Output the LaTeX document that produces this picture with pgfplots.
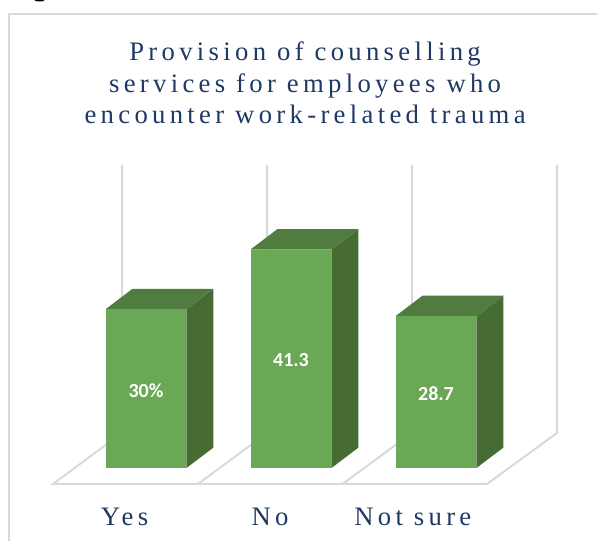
\documentclass[border=0pt]{standalone}
\usepackage{pgfplots}
\pgfplotsset{compat=1.18}
\usepackage{fontspec}
\setmainfont{Liberation Serif}
\newfontfamily\titlefont[LetterSpace=16.2]{Liberation Serif}
\newfontfamily\catfont[LetterSpace=16.2]{Liberation Serif}
\newfontfamily\valfont{Carlito}
\definecolor{navy}{HTML}{1F3864}
\definecolor{front}{HTML}{6AA855}
\definecolor{topf}{HTML}{507D3F}
\definecolor{sidef}{HTML}{466C34}
\definecolor{wall}{HTML}{D9D9D9}
\begin{document}
\begin{tikzpicture}[x=1pt,y=1pt]
\useasboundingbox (0,0) rectangle (447.75pt,405.75pt);
% one category step = 145 units of picture, one percent = 5.29
\begin{axis}[
  scale only axis, width=447.75pt, height=405.75pt,
  at={(0,0)}, anchor=south west,
  hide axis, clip=false,
  xmin=-1.00690, xmax=3.11034,
  ymin=-13.80, ymax=88.47,
]
% foot of the caption line above the frame
\addplot[fill=black, draw=none] coordinates {(-0.7724,88.47) (-0.7517,88.2) (-0.7172,88.2) (-0.6966,88.47)} --cycle;
% outer frame
\addplot[wall, line width=1.5pt] coordinates {(-0.9448,-13.80) (-0.9448,85.8) (3.11034,85.8)};
% back walls and floor
\addplot[wall, line width=1.5pt] coordinates {(-0.1655,57.3) (-0.1655,6.62) (-0.6414,-3.02) (2.3517,-3.02) (2.8345,6.62) (2.8345,57.3)};
\addplot[wall, line width=1.5pt] coordinates {(0.8345,57.3) (0.8345,6.62) (0.3586,-3.02)};
\addplot[wall, line width=1.5pt] coordinates {(1.8345,57.3) (1.8345,6.62) (1.3552,-3.02)};
% Yes
\addplot[fill=sidef, draw=none] coordinates {(0.2793,0) (0.4655,3.875) (0.4655,33.875) (0.2793,30)} --cycle;
\addplot[fill=topf, draw=none] coordinates {(-0.2793,30) (-0.0931,33.875) (0.4655,33.875) (0.2793,30)} --cycle;
\addplot[fill=front, draw=none] coordinates {(-0.2793,0) (0.2793,0) (0.2793,30) (-0.2793,30)} --cycle;
% No
\addplot[fill=sidef, draw=none] coordinates {(1.2793,0) (1.4655,3.875) (1.4655,45.175) (1.2793,41.3)} --cycle;
\addplot[fill=topf, draw=none] coordinates {(0.7207,41.3) (0.9069,45.175) (1.4655,45.175) (1.2793,41.3)} --cycle;
\addplot[fill=front, draw=none] coordinates {(0.7207,0) (1.2793,0) (1.2793,41.3) (0.7207,41.3)} --cycle;
% Not sure
\addplot[fill=sidef, draw=none] coordinates {(2.2793,0) (2.4655,3.875) (2.4655,32.575) (2.2793,28.7)} --cycle;
\addplot[fill=topf, draw=none] coordinates {(1.7207,28.7) (1.9069,32.575) (2.4655,32.575) (2.2793,28.7)} --cycle;
\addplot[fill=front, draw=none] coordinates {(1.7207,0) (2.2793,0) (2.2793,28.7) (1.7207,28.7)} --cycle;
% value labels
\node[text=white, yshift=-1.2pt, font=\valfont\bfseries\fontsize{15}{18}\selectfont] at (axis cs:0,15) {30\%};
\node[text=white, yshift=-1.2pt, font=\valfont\bfseries\fontsize{15}{18}\selectfont] at (axis cs:1,20.65) {41.3};
\node[text=white, yshift=-1.2pt, font=\valfont\bfseries\fontsize{15}{18}\selectfont] at (axis cs:2,14.35) {28.7};
% category labels
\node[text=navy, font=\catfont\fontsize{20}{22}\selectfont, anchor=base] at (axis cs:-0.148,-10.85) {Yes};
\node[text=navy, font=\catfont\fontsize{20}{22}\selectfont, anchor=base] at (axis cs:0.855,-10.85) {No};
\node[text=navy, font=\catfont\fontsize{20}{22}\selectfont, anchor=base] at (axis cs:1.84,-10.85) {Not sure};
% title
\node[text=navy, font=\titlefont\fontsize{20}{23.6}\selectfont, align=center] at (axis cs:1.097,72.75) {Provision of counselling\\services for employees who\\encounter work-related trauma};
\end{axis}
\end{tikzpicture}
\end{document}
